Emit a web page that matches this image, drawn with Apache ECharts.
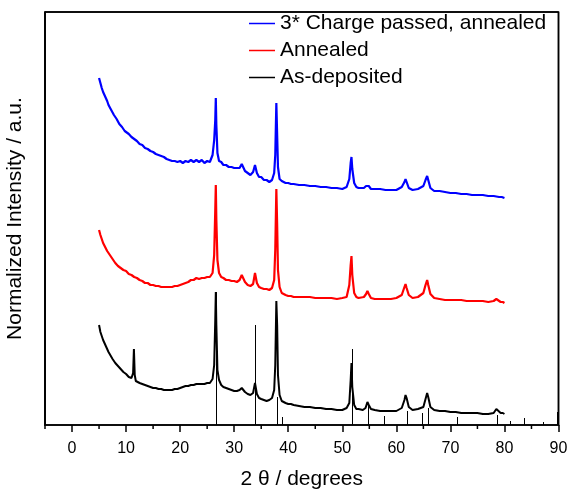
<!DOCTYPE html>
<html>
<head>
<meta charset="utf-8">
<script src="https://cdn.jsdelivr.net/npm/echarts@6/dist/echarts.min.js"></script>
<style>
html,body{margin:0;padding:0;background:#fff;}
#chart{width:568px;height:489px;}
</style>
</head>
<body>
<div id="chart"></div>
<script>
// Series names
const seriesNames = ['3* Charge passed, annealed', 'Annealed', 'As-deposited'];

// 2θ (degrees) vs normalized intensity (offset, arbitrary units)
const chargedAnnealed = [
[5,347],[5.25,342],[5.5,337],[5.75,333],[6,331],[6.25,327],[6.5,324],[6.75,320],[7,318],[7.25,315],[7.5,313],[7.75,310],[8,309],[8.25,306],[8.5,305],[8.75,301],[9,301],[9.25,298],[9.5,298],[9.75,294],[10,294],[10.5,291],[11,288],[11.5,286],[12,284],[12.5,281],[13,280],[13.5,277],[14,276],[14.5,274],[15,273],[15.5,271],[16,270],[16.5,269],[17,268],[17.5,266],[18,265],[18.5,264],[19,264],[19.5,263],[20,264],[20.5,262],[21,264],[21.5,263],[22,265],[22.5,263],[23,265],[23.5,263],[24,265],[24.5,262],[25,264],[25.5,263],
[26,270],[26.3,285],[26.5,305],[26.6,327],[26.7,300],[26.9,272],[27.2,264],[27.6,263],[28,260],[28.5,260],[29,258],[29.5,258],[30,257],[30.5,257],[31,257],[31.4,261],[31.7,259],[32,254],[32.5,252],[33,250],[33.5,253],[33.85,260],[34.2,252],[34.6,248],[35,248],[35.5,245],[36,245],[36.5,243],[37,245],[37.4,252],[37.6,270],[37.8,322],[37.95,290],[38.1,258],[38.4,246],[38.8,244],[39.5,242],[40,242],[40.5,241],[41,241],[42,240],[43,240],[44,239],[45,239],[46,238],[47,238],[48,237],[49,237],[50,236],[50.8,238],[51.3,246],[51.55,262],[51.7,268],[51.85,256],[52.2,242],[52.6,238],[53,237],[53.5,237],[54,237],[54.4,239],[54.65,241],[54.9,239],[55.3,236],[56,236],[57,236],[58,235],[59,235],[60,235],[61,238],[61.5,243],[61.7,246],[61.9,243],[62.3,237],[63,235],[64,236],[65,239],[65.4,245],[65.7,249],[65.9,245],[66.3,237],[67,234],[68,234],[69,233],[70,232],[71,232],[72,231],[73,231],[74,230],[75,230],[76,230],[77,229],[78,229],[79,228],[79.5,228],[80,227]
];

const annealed = [
[5,195],[5.25,190],[5.5,186],[5.75,182],[6,180],[6.5,174],[7,170],[7.5,166],[8,162],[8.5,159],[9,157],[9.5,155],[10,154],[10.5,151],[11,150],[11.5,148],[12,147],[12.5,145],[13,144],[13.5,142],[14,142],[14.5,140],[15,140],[15.5,139],[16,139],[16.5,138],[17,138],[17.5,138],[18,138],[18.5,138],[19,139],[19.5,139],[20,140],[20.5,141],[21,142],[21.5,143],[22,145],[22.5,145],[23,147],[23.5,146],[24,147],[24.5,147],[25,148],[25.5,148],
[26,152],[26.3,170],[26.5,215],[26.6,240],[26.7,205],[26.9,165],[27.2,152],[27.6,148],[28,147],[28.5,145],[29,145],[29.5,144],[30,144],[30.5,143],[31,145],[31.4,150],[31.7,149],[32,143],[32.5,140],[33,139],[33.5,141],[33.85,152],[34.2,142],[34.6,138],[35,137],[35.5,136],[36,136],[36.5,135],[37,137],[37.4,145],[37.6,175],[37.8,236],[37.95,200],[38.1,155],[38.4,138],[38.8,132],[39.5,130],[40,129],[40.5,129],[41,128],[42,128],[43,128],[44,128],[45,127],[46,127],[47,127],[48,127],[49,126],[50,127],[50.8,128],[51.3,140],[51.55,160],[51.7,169],[51.85,150],[52.2,132],[52.6,128],[53,127],[54,128],[54.4,131],[54.65,134],[54.9,131],[55.3,127],[56,126],[57,126],[58,126],[59,126],[60,127],[61,130],[61.5,138],[61.7,141],[61.9,137],[62.3,130],[63,127],[64,128],[65,132],[65.4,140],[65.7,145],[65.9,140],[66.3,131],[67,127],[68,126],[69,125],[70,125],[71,125],[72,125],[73,124],[74,124],[75,124],[76,124],[77,123],[78,124],[78.5,126],[78.8,125],[79.3,123],[79.7,123],[80,122]
];

const asDeposited = [
[5,100],[5.25,93],[5.5,89],[5.75,85],[6,82],[6.25,79],[6.5,76],[6.75,73],[7,71],[7.5,66],[8,62],[8.5,59],[9,56],[9.5,53],[10,51],[10.5,48],[11,47],[11.3,52],[11.45,76],[11.6,50],[11.8,44],[12,43],[12.5,42],[13,41],[13.5,40],[14,39],[14.5,38],[15,37],[15.5,37],[16,36],[16.5,36],[17,35],[17.5,35],[18,35],[18.5,35],[19,36],[19.5,36],[20,37],[20.5,38],[21,39],[21.5,39],[22,40],[22.5,40],[23,41],[23.5,41],[24,41],[24.5,41],[25,42],[25.5,42],
[26,46],[26.3,60],[26.5,105],[26.6,133],[26.7,100],[26.9,55],[27.2,45],[27.6,40],[28,38],[28.5,37],[29,36],[29.5,35],[30,34],[30.5,34],[31,35],[31.4,37],[31.7,36],[32,33],[32.5,31],[33,30],[33.5,32],[33.85,42],[34.2,31],[34.6,27],[35,26],[35.5,25],[36,24],[36.5,25],[37,27],[37.4,35],[37.6,60],[37.8,124],[37.95,100],[38.1,50],[38.4,30],[38.8,24],[39.5,22],[40,21],[40.5,21],[41,20],[42,19],[43,18],[44,18],[45,17],[46,17],[47,16],[48,16],[49,15],[50,15],[50.8,17],[51.3,22],[51.55,45],[51.7,62],[51.85,38],[52.2,20],[52.6,16],[53,16],[53.8,15],[54.3,17],[54.65,23],[54.9,20],[55.3,16],[56,15],[57,14],[58,14],[59,14],[60,14],[61,17],[61.5,25],[61.7,30],[61.9,27],[62.3,18],[63,15],[64,16],[65,18],[65.4,26],[65.7,32],[65.9,28],[66.3,18],[67,15],[68,14],[69,14],[70,13],[71,13],[72,12],[73,12],[74,12],[75,12],[76,11],[77,11],[78,12],[78.5,16],[78.8,14],[79.3,12],[79.7,12],[80,11]
];

// Reference pattern sticks: [2θ, relative height]
const refSticks = [
[26.6,133],[33.9,100],[37.9,28],[38.9,8],[51.8,76],[54.8,19],[57.8,9],[61.9,14],[64.7,12],[65.9,17],[71.3,8],[78.7,10],[81.1,4],[83.7,7],[87.2,3],[89.8,13]
];

// Axis ranges and ticks
const xRange = [-5, 90];
const yRange = [0, 413];
const majorTicks = [0,10,20,30,40,50,60,70,80,90];
const minorTicks = [-5,5,15,25,35,45,55,65,75,85];

// Frame edges in data units: [x1, y1, x2, y2]
const frameEdges = [
  [xRange[0], yRange[0], xRange[0], yRange[1]],
  [xRange[1], yRange[0], xRange[1], yRange[1]],
  [xRange[0], yRange[1], xRange[1], yRange[1]]
];

const FONT = 'Liberation Sans, Arial, sans-serif';
const chart = echarts.init(document.getElementById('chart'), null, {renderer:'canvas'});

const option = {
  animation: false,
  backgroundColor: '#fff',
  grid: {left:45, right:9.5, top:12, bottom:64, show:true, borderColor:'#000', borderWidth:1.5, backgroundColor:'rgba(0,0,0,0)', containLabel:false, outerBoundsMode:'none'},
  legend: {
    data: seriesNames,
    orient: 'vertical',
    left: 249, top: 13,
    padding: 0,
    icon: 'rect',
    itemWidth: 26, itemHeight: 1.5, itemGap: 6,
    textStyle: {fontFamily: FONT, fontSize: 21, color:'#000', lineHeight: 21, height: 21}
  },
  xAxis: {
    type: 'value', min: xRange[0], max: xRange[1], position:'bottom',
    name: '2 θ / degrees', nameLocation: 'middle', nameGap: 44,
    nameTextStyle: {fontFamily: FONT, fontSize: 21, color:'#000'},
    axisLine: {show:true, onZero:false, lineStyle:{color:'#000', width:1.5}},
    axisTick: {show:true, customValues: majorTicks, length:7, inside:false, lineStyle:{color:'#000', width:1.5}},
    axisLabel: {show:true, customValues: majorTicks, fontFamily: FONT, fontSize:16, color:'#000', margin:16},
    splitLine: {show:false}
  },
  yAxis: {
    type: 'value', min: yRange[0], max: yRange[1], position:'left',
    name: 'Normalized Intensity / a.u.', nameLocation:'middle', nameGap: 19, nameRotate: 90,
    nameTextStyle: {fontFamily: FONT, fontSize: 21, color:'#000'},
    axisLine: {show:true, onZero:false, lineStyle:{color:'#000', width:1.5}},
    axisTick: {show:false}, axisLabel: {show:false}, splitLine:{show:false}
  },
  series: [
    {
      name: 'frame', type: 'custom', silent: true, z: 10,
      data: frameEdges,
      encode: {x:[0,2], y:[1,3]},
      renderItem: function(params, api){
        const a = api.coord([api.value(0), api.value(1)]);
        const b = api.coord([api.value(2), api.value(3)]);
        return {type:'line', shape:{x1:a[0], y1:a[1], x2:b[0], y2:b[1]}, style:{stroke:'#000', lineWidth:1.5}};
      }
    },
    {
      name: 'minor', type: 'custom', silent: true, z: 10,
      data: minorTicks.map(v => [v, yRange[0]]),
      encode: {x:0, y:1},
      renderItem: function(params, api){
        const p = api.coord([api.value(0), api.value(1)]);
        return {type:'line', shape:{x1:p[0], y1:p[1], x2:p[0], y2:p[1]+4}, style:{stroke:'#000', lineWidth:1.5}};
      }
    },
    {
      name: 'refs', type: 'custom', silent:true, z: 1,
      data: refSticks,
      encode: {x:0, y:1},
      renderItem: function(params, api){
        const x = api.value(0), h = api.value(1);
        const p0 = api.coord([x, 0]);
        const p1 = api.coord([x, h]);
        return {type:'line', shape:{x1:Math.round(p0[0])+0.5, y1:p0[1], x2:Math.round(p0[0])+0.5, y2:p1[1]}, style:{stroke:'#000', lineWidth:1}};
      }
    },
    {name: seriesNames[0], type:'line', data: chargedAnnealed, symbol:'none', color:'#0000ff', lineStyle:{width:2.2, color:'#0000ff'}, z:3},
    {name: seriesNames[1], type:'line', data: annealed, symbol:'none', color:'#ff0000', lineStyle:{width:2.2, color:'#ff0000'}, z:3},
    {name: seriesNames[2], type:'line', data: asDeposited, symbol:'none', color:'#000000', lineStyle:{width:2, color:'#000000'}, z:3}
  ]
};
chart.setOption(option);
</script>
</body>
</html>
